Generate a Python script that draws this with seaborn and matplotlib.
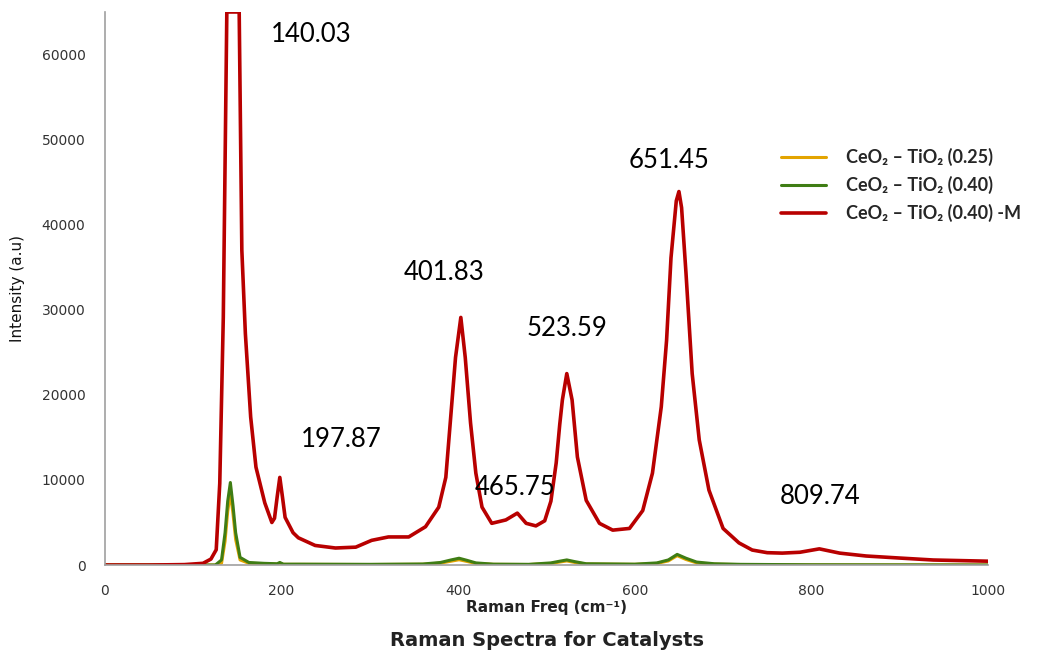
import matplotlib
matplotlib.use("Agg")
import matplotlib.pyplot as plt
import seaborn as sns

# Raman shift (cm-1) and intensity (main peak saturates at 65000)
red_x = [0, 50, 90, 111, 120, 126, 130, 134, 138, 145, 152, 155, 159, 165, 171, 181, 189, 192,
         195, 198, 201, 204, 213, 219, 238, 261, 284, 302, 321, 344, 363, 378, 386, 391, 397,
         403, 408, 414, 420, 427, 438, 454, 467, 477, 488, 498, 505, 511, 515, 518, 523, 529,
         535, 545, 560, 575, 594, 609, 620, 630, 636, 641, 647, 650, 653, 658, 665, 673, 684,
         700, 718, 733, 750, 767, 787, 809, 832, 862, 900, 938, 1000]
red_y = [0, 0, 50, 200, 700, 1800, 9600, 29100, 65000, 65000, 65000, 37000, 27200, 17400, 11500,
         7300, 5000, 5500, 8000, 10300, 8000, 5600, 3800, 3200, 2300, 2000, 2100, 2900, 3300, 3300,
         4500, 6800, 10300, 16700, 24400, 29100, 24400, 16700, 10800, 6800, 4900, 5300, 6100, 4900,
         4600, 5200, 7500, 12000, 16500, 19400, 22500, 19400, 12700, 7600, 4900, 4100, 4300, 6400,
         10800, 18600, 26400, 36100, 42800, 43900, 42000, 34300, 22500, 14700, 8800, 4300, 2600,
         1760, 1450, 1400, 1500, 1900, 1400, 1060, 820, 590, 450]

green_x = [0, 100, 125, 132, 136, 139, 142, 145, 148, 153, 163, 180, 195, 198, 202, 220, 300, 360,
           380, 392, 401, 410, 420, 440, 480, 505, 515, 523, 532, 545, 600, 625, 638, 648, 658,
           670, 690, 720, 800, 1000]
green_y = [0, 0, 0, 600, 3800, 7500, 9700, 7000, 3800, 900, 300, 200, 150, 300, 100, 100, 80, 120,
           300, 600, 800, 550, 250, 100, 80, 250, 450, 600, 400, 150, 100, 250, 600, 1250, 800, 350,
           150, 80, 30, 0]

yellow_x = green_x
yellow_y = [0, 0, 0, 200, 2800, 6300, 8500, 6000, 3000, 600, 200, 150, 100, 220, 80, 80, 60, 90,
            220, 450, 620, 420, 180, 80, 60, 180, 350, 480, 300, 120, 80, 180, 480, 1100, 650, 250,
            100, 50, 20, 0]

series_names = ["CeO\u2082 \u2013 TiO\u2082 (0.25)", "CeO\u2082 \u2013 TiO\u2082 (0.40)",
                "CeO\u2082 \u2013 TiO\u2082 (0.40) -M"]

peak_labels = ["140.03", "197.87", "401.83", "465.75", "523.59", "651.45", "809.74"]
label_x = [234, 267, 384, 464, 523, 639, 810]
label_y = [62400, 14700, 34400, 9150, 27800, 47500, 8000]

sns.set_style("white")
plt.rcParams['font.family'] = ['Lato', 'DejaVu Sans']

fig = plt.figure(figsize=(10.56, 6.52), dpi=100)
ax = fig.add_axes([0.0994, 0.1334, 0.8362, 0.8482])

sns.lineplot(x=yellow_x, y=yellow_y, ax=ax, color="#E3A400", lw=2.2, label=series_names[0])
sns.lineplot(x=green_x, y=green_y, ax=ax, color="#3F7D14", lw=2.2, label=series_names[1])
sns.lineplot(x=red_x, y=red_y, ax=ax, color="#B80000", lw=2.6, label=series_names[2])

for t, lx, ly in zip(peak_labels, label_x, label_y):
    ax.text(lx, ly, t, ha="center", va="center", fontsize=18.5, color="black",
            family=['Lato', 'DejaVu Sans'])

ax.set_xlim(0, 1000)
ax.set_ylim(0, 65000)
ax.set_xticks(range(0, 1001, 200))
ax.set_yticks(range(0, 60001, 10000))
ax.tick_params(axis="both", length=0, labelsize=10, colors="#333333", pad=14)
for lab in ax.get_xticklabels() + ax.get_yticklabels():
    lab.set_family(['DejaVu Sans'])
for s in ["top", "right"]:
    ax.spines[s].set_visible(False)
for s in ["left", "bottom"]:
    ax.spines[s].set_color("#A0A0A0")
    ax.spines[s].set_linewidth(1.2)

ax.set_xlabel("Raman Freq (cm\u207b\u00b9)", fontsize=11, fontweight="bold", color="#222222",
              family=['Liberation Sans Narrow', 'DejaVu Sans'], labelpad=1)
ax.set_ylabel("Intensity (a.u)", fontsize=11, color="#111111",
              family=['Liberation Sans Narrow', 'DejaVu Sans'], labelpad=12)
fig.text(0.518, 0.017, "Raman Spectra for Catalysts", ha="center", va="center", fontsize=14,
         fontweight="bold", color="#222222", family=['Liberation Sans Narrow', 'DejaVu Sans'])

leg = ax.legend(loc="upper left", bbox_to_anchor=(0.747, 0.783), frameon=False,
                prop={'family': ['Lato', 'DejaVu Sans'], 'weight': 'bold', 'size': 13},
                handlelength=2.5, handletextpad=1.1, labelspacing=0.55)

fig.savefig("out.png", dpi=100)
